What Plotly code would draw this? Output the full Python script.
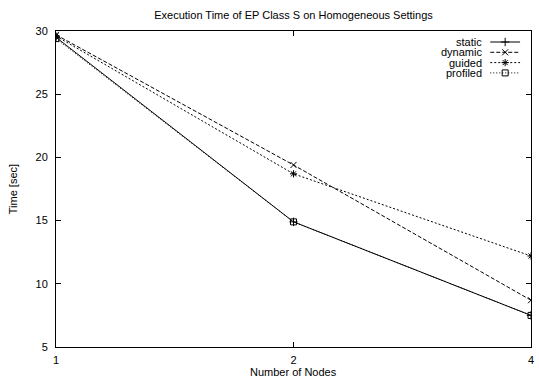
import plotly.graph_objects as go

# ---- data ----
nodes = [1, 2, 4]
static = [29.5, 14.9, 7.5]
dynamic = [29.7, 19.4, 8.7]
guided = [29.6, 18.7, 12.2]
profiled = [29.4, 14.9, 7.5]
series_names = ["static", "dynamic", "guided", "profiled"]
y_ticks = [5, 10, 15, 20, 25, 30]
x_ticks = [1, 2, 4]

W, H = 539, 380
L, R, T, B = 56, 534, 31, 347  # plot area in px

FONT = dict(family="Liberation Sans, Arial, Helvetica, sans-serif", size=11, color="black")

styles = {
    "static": dict(dash="solid", symbol="cross-thin-open"),
    "dynamic": dict(dash="4px,2px", symbol="x-thin-open"),
    "guided": dict(dash="2px,2px", symbol="asterisk-open"),
    "profiled": dict(dash="1px,2px", symbol="square-open"),
}
values = {"static": static, "dynamic": dynamic, "guided": guided, "profiled": profiled}

fig = go.Figure()
for name in series_names:
    st = styles[name]
    fig.add_trace(go.Scatter(
        x=nodes, y=values[name], mode="lines+markers", name=name,
        line=dict(color="black", width=1, dash=st["dash"]),
        marker=dict(symbol=st["symbol"], size=6, color="black",
                    line=dict(color="black", width=1)),
        showlegend=False,
    ))

# ---- gnuplot-style legend (text right, sample on the right) ----
def px_x(p):
    return (p - L) / (R - L)

def px_y(p):
    return (B - p) / (B - T)

leg_text_right = 486
leg_line_x0, leg_line_x1 = 493, 523
leg_row0, leg_step = 42, 10.3
shapes = []
annotations = []
mk_x, mk_y, mk_sym = [], [], []
for i, name in enumerate(series_names):
    yp = leg_row0 + i * leg_step
    annotations.append(dict(
        text=name, xref="paper", yref="paper", x=px_x(leg_text_right), y=px_y(yp),
        xanchor="right", yanchor="middle", showarrow=False, font=FONT, borderpad=0,
    ))
    shapes.append(dict(
        type="line", xref="paper", yref="paper",
        x0=px_x(leg_line_x0), x1=px_x(leg_line_x1), y0=px_y(yp), y1=px_y(yp),
        line=dict(color="black", width=1, dash=styles[name]["dash"]),
    ))
    mk_x.append(px_x((leg_line_x0 + leg_line_x1) / 2))
    mk_y.append(px_y(yp))
    mk_sym.append(styles[name]["symbol"])

fig.add_trace(go.Scatter(
    x=mk_x, y=mk_y, xaxis="x2", yaxis="y2", mode="markers", showlegend=False,
    marker=dict(symbol=mk_sym, size=6, color="black", line=dict(color="black", width=1)),
    hoverinfo="skip",
))

# axis titles
annotations.append(dict(text="Number of Nodes", xref="paper", yref="paper",
                        x=0.5, y=px_y(372), xanchor="center", yanchor="middle",
                        showarrow=False, font=FONT, borderpad=0))
annotations.append(dict(text="Time [sec]", xref="paper", yref="paper",
                        x=px_x(13), y=0.5, xanchor="center", yanchor="middle",
                        textangle=-90, showarrow=False, font=FONT, borderpad=0))

fig.update_layout(
    width=W, height=H, autosize=False,
    margin=dict(l=L, r=W - R, t=T, b=H - B, pad=0),
    paper_bgcolor="white", plot_bgcolor="white",
    font=FONT,
    title=dict(text="Execution Time of EP Class S on Homogeneous Settings",
               x=0.5, xref="paper", xanchor="center",
               y=1 - 15 / H, yref="container", yanchor="middle", font=FONT),
    xaxis=dict(type="log", range=[0, 0.60206], tickvals=x_ticks,
               ticktext=[str(v) for v in x_ticks],
               showgrid=False, zeroline=False, showline=True, linecolor="black",
               linewidth=1, mirror="ticks", ticks="inside", ticklen=5,
               tickcolor="black", tickfont=FONT, ticklabelstandoff=3),
    yaxis=dict(range=[5, 30], tickvals=y_ticks, showgrid=False, zeroline=False,
               showline=True, linecolor="black", linewidth=1, mirror="ticks",
               ticks="inside", ticklen=5, tickcolor="black", tickfont=FONT,
               ticklabelstandoff=5),
    xaxis2=dict(range=[0, 1], overlaying="x", visible=False, fixedrange=True),
    yaxis2=dict(range=[0, 1], overlaying="y", visible=False, fixedrange=True),
    shapes=shapes,
    annotations=annotations,
)

fig.write_html("out.html",
               config={"displayModeBar": False},
               post_script="document.body.style.margin='0';document.body.style.overflow='hidden';")
